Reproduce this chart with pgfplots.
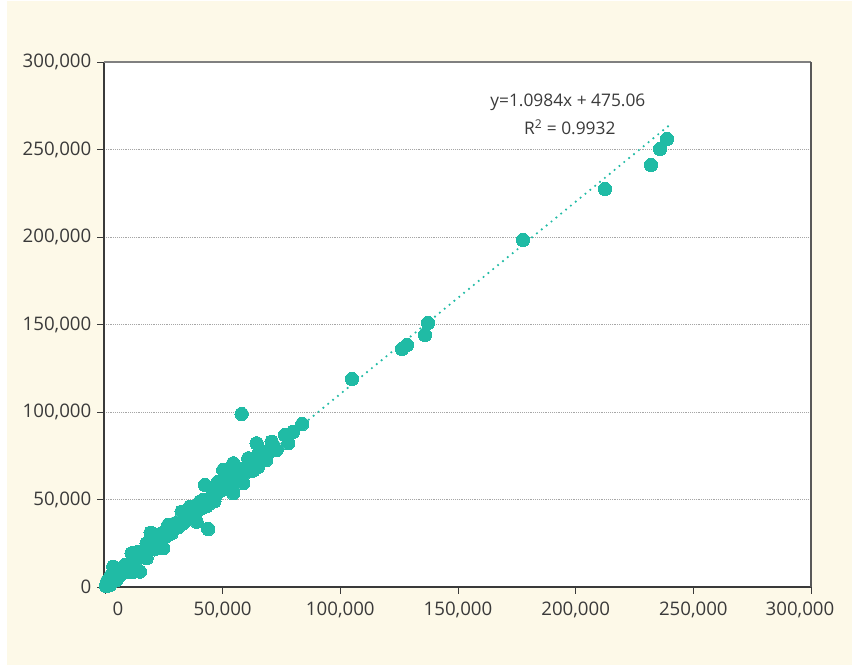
\documentclass[border=0pt]{standalone}
\usepackage{pgfplots}
\pgfplotsset{compat=1.18}
\usepackage{fontspec}
\setmainfont{Open Sans}
\definecolor{cream}{HTML}{FDF9E8}
\definecolor{teal}{HTML}{20BBA5}
\definecolor{txt}{HTML}{3A3A3A}
\begin{document}
\begin{tikzpicture}
\fill[white] (-78pt,-58.5pt) rectangle (561pt,440.25pt);
\fill[cream] (-72.75pt,-58.5pt) rectangle (561pt,439.5pt);
\begin{axis}[
  at={(0,0)}, anchor=south west,
  scale only axis, width=530.25pt, height=393.75pt,
  xmin=-400, xmax=300000, ymin=0, ymax=300000,
  scaled ticks=false,
  axis background/.style={fill=white},
  axis line style={draw=none},
  xtick={0,50000,100000,150000,200000,250000,300000},
  xticklabels={{\hspace*{19.5pt}0},{50,000},{100,000},{150,000},{200,000},{250,000},{\makebox[0pt][c]{\hspace*{-16.5pt}300,000}}},
  ytick={0,50000,100000,150000,200000,250000,300000},
  yticklabels={{0},{50,000},{100,000},{150,000},{200,000},{250,000},{300,000}},
  tick label style={font=\fontsize{14}{15}\selectfont, text=txt},
  xtick pos=bottom, ytick pos=left,
  tick align=outside,
  major tick length=5pt,
  tick style={draw=txt, line width=0.6pt},
  xticklabel style={yshift=-3pt},
  yticklabel style={xshift=-1pt},
  ymajorgrids,
  grid style={densely dotted, draw=gray!70, line width=0.6pt},
  clip=false,
]
\addplot[draw=teal, line width=1.8pt, line cap=round, dash pattern=on 0pt off 4.7pt] coordinates {(0,475.06) (239600,263652)};
\addplot[only marks, color=teal, mark=*, mark size=5pt, mark options={fill=teal, draw=teal, line width=0pt}] coordinates {
(238805,256000) (235831,250286) (232006,241143) (212460,227429) (177617,198286)
(137249,150857) (135974,144000) (128326,138286) (126201,136000) (104955,118857)
(83837,93143) (80012,88743) (76486,86857) (77888,82114) (70834,83029)
(72959,78286) (64460,82114) (67987,77314) (66585,73543) (60891,73543)
(62336,69714) (54517,70686) (65140,68743) (53115,65886) (55962,63029)
(51713,63029) (58767,59257) (54517,53543) (50268,58286) (42492,58286)
(46019,53543) (41770,49714) (59489,64971) (50268,66857) (58087,98857)
(43894,33143) (19419,31029) (32591,43029) (3527,11600) (722,2114)
(12025,8743) (14872,8743) (11345,19257) (17719,24971) (24773,22114)
(17719,16400) (26898,35429) (29744,36400) (24093,30686) (36118,45886)
(40367,48743) (44617,47829) (38965,37314) (6374,6857) (8498,12571)
(4972,4000) (2125,1143) (14150,20171) (20524,26857) (33271,36400)
(28342,30686) (37520,45886)
(8000,9500) (10000,12000) (22000,24500) (27000,30000) (35000,39000)
(47000,52000) (52000,57500) (56000,62000) (62000,70000) (69000,76000)
(3000,5000) (1500,2500) (5000,8000) (18000,21000) (31000,34000)
(39000,43000) (45000,50000) (49000,55000) (54000,60000) (57000,64000)
(60000,66000) (64000,71000) (66000,74000) (48000,60000) (53000,62000)
(55000,67000) (61000,67000) (43000,46000)
(500,500) (1000,3500) (2500,6500) (4000,9000) (6500,10000) (9500,8500)
(13000,15000) (15500,18000) (21000,21500) (23000,27500) (25500,28500)
(29000,33000) (33500,38000) (36500,41000) (38000,40000) (41000,45000)
(44000,49500) (46500,49000) (51000,56000) (53500,64000) (56500,60500)
(58500,67500) (63000,66500) (65500,76500) (68500,72500) (71500,79500)
};
\draw[draw=txt, line width=0.8pt] (rel axis cs:0,1) -- (rel axis cs:0,0) -- (rel axis cs:1,0);
\draw[draw=gray, line width=0.8pt] (rel axis cs:0,1) -- (rel axis cs:1,1);
\draw[draw=black!65, line width=1pt] (rel axis cs:1,0) -- (rel axis cs:1,1);
\node[font=\fontsize{13}{14}\selectfont, text=txt] at (axis cs:196700,277100) {y=1.0984x + 475.06};
\node[font=\fontsize{13}{14}\selectfont, text=txt] at (axis cs:197500,262900) {R\textsuperscript{2} = 0.9932};
\end{axis}
\end{tikzpicture}
\end{document}
